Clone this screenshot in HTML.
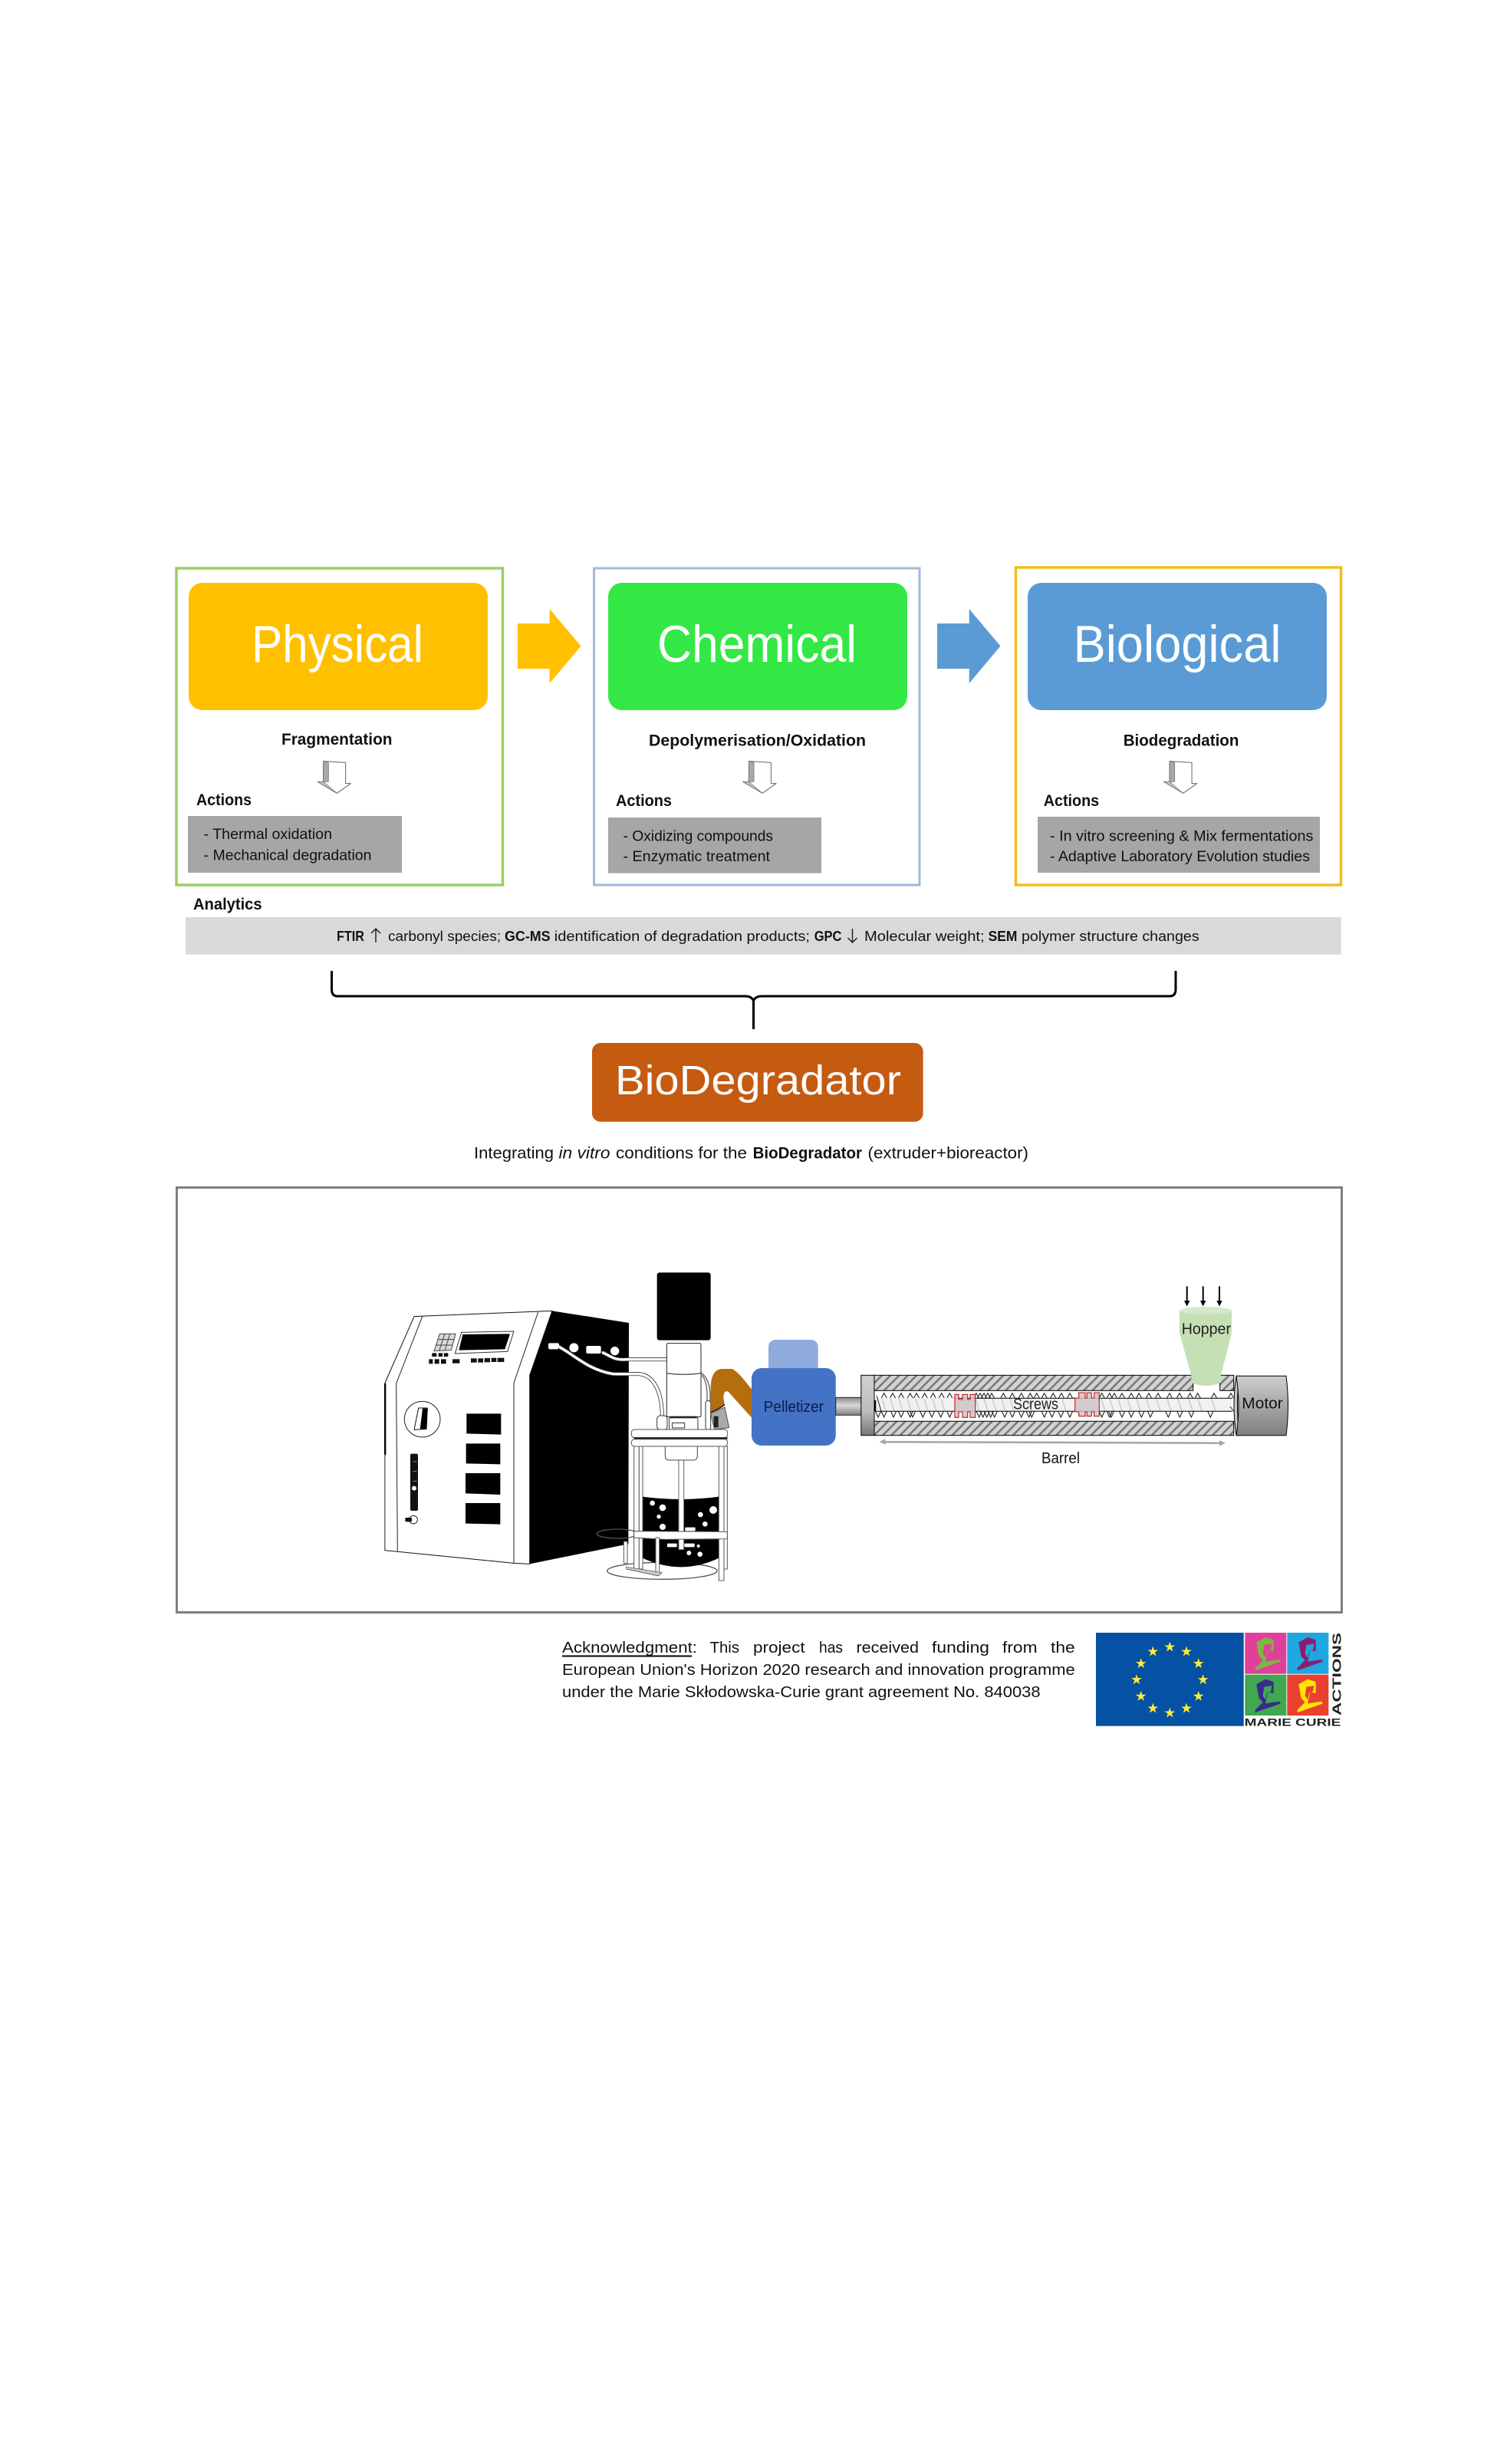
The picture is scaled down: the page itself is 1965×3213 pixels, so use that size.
<!DOCTYPE html>
<html><head><meta charset="utf-8"><title>BioDegradator</title>
<style>
html,body{margin:0;padding:0;background:#fff;width:1965px;height:3213px;overflow:hidden}
svg{display:block}
text{font-family:"Liberation Sans",sans-serif;fill:#111}
.b{font-weight:bold}
.w{fill:#fff}
</style></head><body>
<svg xmlns="http://www.w3.org/2000/svg" width="1965" height="3213" viewBox="0 0 1965 3213">
<defs>
<g id="da" stroke="#666" stroke-width="2" stroke-linejoin="round">
<polygon points="65,38 152,43 152,125 172,125 118,163 42,118 65,118" fill="#fff" stroke-width="3"/>
<polygon points="65,38 85,43 85,118 65,118" fill="#a8a8a8"/>
<polygon points="42,118 65,118 118,163" fill="#c4c4c4"/>
</g>
<polygon id="st" transform="scale(1.08)" fill="#FFEC3A" points="0,-6.7 1.5,-2.07 6.37,-2.07 2.43,.79 3.94,5.42 0,2.56 -3.94,5.42 -2.43,.79 -6.37,-2.07 -1.5,-2.07"/>
<pattern id="hatch" width="8" height="8" patternUnits="userSpaceOnUse" patternTransform="rotate(45)">
<rect width="8" height="8" fill="#d4d2d2"/><rect width="2.6" height="8" fill="#7a7a7a"/>
</pattern>
<linearGradient id="gv" x1="0" y1="0" x2="0" y2="1"><stop offset="0" stop-color="#d0cece"/><stop offset="1" stop-color="#7f7f7f"/></linearGradient>
<linearGradient id="gc" x1="0" y1="0" x2="0" y2="1"><stop offset="0" stop-color="#8a8a8a"/><stop offset=".45" stop-color="#d8d8d8"/><stop offset="1" stop-color="#808080"/></linearGradient>
<linearGradient id="gf" x1="0" y1="0" x2="0" y2="1"><stop offset="0" stop-color="#cfcfcf"/><stop offset=".6" stop-color="#bdbdbd"/><stop offset="1" stop-color="#777"/></linearGradient>
</defs>

<!-- top boxes -->
<rect x="230" y="741" width="425.500" height="413" fill="#fff" stroke="#9BCF63" stroke-width="3.500"/>
<rect x="774.500" y="741" width="424.500" height="413" fill="#fff" stroke="#A3B8DC" stroke-width="3"/>
<rect x="1324.500" y="740" width="424" height="414" fill="#fff" stroke="#F2BD1D" stroke-width="3.500"/>

<rect x="246" y="760" width="390" height="166" rx="18" fill="#FFC000"/>
<rect x="793" y="760" width="390" height="166" rx="18" fill="#33E845"/>
<rect x="1340" y="760" width="390" height="166" rx="18" fill="#5B9BD5"/>
<text class="w" x="328" y="863" font-size="68" textLength="224" lengthAdjust="spacingAndGlyphs">Physical</text>
<text class="w" x="857" y="863" font-size="68" textLength="260" lengthAdjust="spacingAndGlyphs">Chemical</text>
<text class="w" x="1399.500" y="863" font-size="68" textLength="271" lengthAdjust="spacingAndGlyphs">Biological</text>

<polygon points="675,813 716.600,813 716.600,794 757.500,842.500 716.600,891 716.600,872 675,872" fill="#FFC000"/>
<polygon points="1222,813 1263.700,813 1263.700,794 1304.500,842.500 1263.700,891 1263.700,872 1222,872" fill="#5B9BD5"/>

<text class="b" x="367" y="971" font-size="21" textLength="144.500" lengthAdjust="spacingAndGlyphs">Fragmentation</text>
<text class="b" x="846" y="972.500" font-size="21" textLength="283" lengthAdjust="spacingAndGlyphs">Depolymerisation/Oxidation</text>
<text class="b" x="1464.700" y="972.500" font-size="21" textLength="150.700" lengthAdjust="spacingAndGlyphs">Biodegradation</text>

<g transform="translate(400,980) scale(.3333)"><use href="#da"/></g>
<g transform="translate(954.700,980) scale(.3333)"><use href="#da"/></g>
<g transform="translate(1503.400,980) scale(.3333)"><use href="#da"/></g>

<text class="b" x="256" y="1050" font-size="21" textLength="72" lengthAdjust="spacingAndGlyphs">Actions</text>
<text class="b" x="803" y="1051" font-size="21" textLength="73" lengthAdjust="spacingAndGlyphs">Actions</text>
<text class="b" x="1360.700" y="1051" font-size="21" textLength="72.500" lengthAdjust="spacingAndGlyphs">Actions</text>

<rect x="245" y="1064" width="279" height="74" fill="#A6A6A6"/>
<rect x="793" y="1066" width="278" height="72.600" fill="#A6A6A6"/>
<rect x="1353" y="1065" width="368" height="73" fill="#A6A6A6"/>
<text x="265.600" y="1094" font-size="19.500" textLength="167.400" lengthAdjust="spacingAndGlyphs">- Thermal oxidation</text>
<text x="265.600" y="1121.400" font-size="19.500" textLength="218.900" lengthAdjust="spacingAndGlyphs">- Mechanical degradation</text>
<text x="812.500" y="1096.400" font-size="19.500" textLength="195.500" lengthAdjust="spacingAndGlyphs">- Oxidizing compounds</text>
<text x="812.500" y="1123" font-size="19.500" textLength="191.500" lengthAdjust="spacingAndGlyphs">- Enzymatic treatment</text>
<text x="1369" y="1096.400" font-size="19.500" textLength="343.400" lengthAdjust="spacingAndGlyphs">- In vitro screening &amp; Mix fermentations</text>
<text x="1369" y="1123" font-size="19.500" textLength="339" lengthAdjust="spacingAndGlyphs">- Adaptive Laboratory Evolution studies</text>

<!-- analytics -->
<text class="b" x="252" y="1186" font-size="21" textLength="89.600" lengthAdjust="spacingAndGlyphs">Analytics</text>
<rect x="242" y="1196" width="1506.700" height="48.600" fill="#D9D9D9"/>
<text class="b" x="439" y="1227" font-size="18" textLength="36" lengthAdjust="spacingAndGlyphs">FTIR</text>
<path d="M490 1229V1211M484 1217l6-6 6 6" fill="none" stroke="#222" stroke-width="1.500"/>
<text x="506" y="1227" font-size="18" textLength="147" lengthAdjust="spacingAndGlyphs">carbonyl species;</text>
<text class="b" x="658" y="1227" font-size="18" textLength="59.600" lengthAdjust="spacingAndGlyphs">GC-MS</text>
<text x="722.800" y="1227" font-size="18" textLength="333.200" lengthAdjust="spacingAndGlyphs">identification of degradation products;</text>
<text class="b" x="1061.700" y="1227" font-size="18" textLength="35.800" lengthAdjust="spacingAndGlyphs">GPC</text>
<path d="M1111.500 1211V1229M1105.500 1223l6 6 6-6" fill="none" stroke="#222" stroke-width="1.500"/>
<text x="1127" y="1227" font-size="18" textLength="156.600" lengthAdjust="spacingAndGlyphs">Molecular weight;</text>
<text class="b" x="1288.600" y="1227" font-size="18" textLength="37.800" lengthAdjust="spacingAndGlyphs">SEM</text>
<text x="1332" y="1227" font-size="18" textLength="231.700" lengthAdjust="spacingAndGlyphs">polymer structure changes</text>

<!-- brace -->
<path d="M432.500 1266V1290Q432.500 1299 440 1299H972Q980 1299 982.500 1305Q985 1299 993 1299H1525Q1533 1299 1533 1290V1266" fill="none" stroke="#000" stroke-width="3"/>
<path d="M982.500 1302V1342" fill="none" stroke="#000" stroke-width="3"/>

<rect x="772" y="1360" width="431.600" height="102.700" rx="11" fill="#C55A11"/>
<text class="w" x="802" y="1427" font-size="54" textLength="373" lengthAdjust="spacingAndGlyphs">BioDegradator</text>

<text x="618" y="1510.700" font-size="21.500" textLength="104" lengthAdjust="spacingAndGlyphs">Integrating</text>
<text x="728.500" y="1510.700" font-size="21.500" font-style="italic" textLength="67" lengthAdjust="spacingAndGlyphs">in vitro</text>
<text x="803" y="1510.700" font-size="21.500" textLength="171" lengthAdjust="spacingAndGlyphs">conditions for the</text>
<text class="b" x="981.600" y="1510.700" font-size="21.500" textLength="142.400" lengthAdjust="spacingAndGlyphs">BioDegradator</text>
<text x="1131.500" y="1510.700" font-size="21.500" textLength="209.500" lengthAdjust="spacingAndGlyphs">(extruder+bioreactor)</text>

<!-- frame -->
<rect x="230.500" y="1548.500" width="1519" height="554" fill="#fff" stroke="#7F7F7F" stroke-width="3"/>

<!-- bioreactor, coordinates in 3x crop space -->
<g transform="translate(480,1630) scale(.33333)" stroke-linejoin="round">
 <polygon points="720,238 1020,285 1018,1150 632,1228 632,490" fill="#000"/>
 <polygon points="65,522 180,260 720,238 632,490 632,1228 570,1225 65,1175" fill="#fff" stroke="#111" stroke-width="3"/>
 <path d="M110,522 212,260M110,522 115,1178M570,520 665,243M570,520V1225" fill="none" stroke="#222" stroke-width="3"/>
 <rect x="63" y="522" width="7" height="280" fill="#000"/>
 <rect x="63" y="800" width="5" height="375" fill="#777"/>
 <!-- keypad and display -->
 <polygon points="280,328 342,328 325,392 258,395" fill="#d8d8d8" stroke="#444" stroke-width="3"/>
 <path d="M300,328 278,394M320,328 300,393M272,350H335M266,372H330" stroke="#444" stroke-width="3" fill="none"/>
 <polygon points="365,322 570,318 545,397 340,405" fill="#fff" stroke="#333" stroke-width="3"/>
 <polygon points="370,330 555,328 535,388 355,392" fill="#000"/>
 <g fill="#111">
  <rect x="250" y="403" width="18" height="14"/><rect x="275" y="403" width="16" height="14"/><rect x="296" y="403" width="17" height="14"/>
  <rect x="238" y="427" width="15" height="18"/><rect x="260" y="427" width="18" height="18"/><rect x="285" y="427" width="20" height="18"/>
  <rect x="330" y="427" width="28" height="16"/><rect x="402" y="424" width="23" height="16"/><rect x="430" y="424" width="20" height="16"/><rect x="455" y="423" width="22" height="16"/><rect x="482" y="422" width="20" height="16"/><rect x="506" y="422" width="26" height="16"/>
 </g>
 <!-- dial -->
 <circle cx="212" cy="662" r="70" fill="#fff" stroke="#222" stroke-width="3"/>
 <polygon points="197,618 232,618 228,700 180,703" fill="#fff" stroke="#111" stroke-width="3"/>
 <polygon points="213,620 232,620 228,700 203,701" fill="#000"/>
 <!-- windows -->
 <g fill="#000">
  <polygon points="385,640 520,640 520,722 385,718"/><polygon points="383,757 517,757 517,838 383,835"/>
  <polygon points="381,873 517,873 517,957 381,952"/><polygon points="381,990 517,990 517,1073 381,1070"/>
 </g>
 <rect x="165" y="797" width="30" height="223" rx="6" fill="#111"/>
 <path d="M175,828H190M175,866H190M175,904H190" stroke="#888" stroke-width="3"/>
 <circle cx="180" cy="932" r="9" fill="#fff"/>
 <circle cx="177" cy="1055" r="16" fill="#fff" stroke="#222" stroke-width="3"/>
 <rect x="145" y="1047" width="26" height="16" rx="5" fill="#111"/>
 <!-- ports -->
 <g fill="#fff">
  <rect x="705" y="364" width="42" height="24" rx="6"/><circle cx="805" cy="382" r="18"/><rect x="853" y="375" width="58" height="30" rx="6"/><circle cx="965" cy="395" r="17"/>
 </g>
 <path d="M745,378C800,405 860,470 960,485H1060C1120,490 1150,560 1150,650" fill="none" stroke="#333" stroke-width="15"/>
 <path d="M745,378C800,405 860,470 960,485H1060C1120,490 1150,560 1150,650" fill="none" stroke="#fff" stroke-width="10"/>
 <path d="M915,400C950,415 960,432 1010,428H1170" fill="none" stroke="#333" stroke-width="15"/>
 <path d="M915,400C950,415 960,432 1010,428H1170" fill="none" stroke="#fff" stroke-width="10"/>
 <!-- head -->
 <rect x="1130" y="88" width="210" height="265" rx="10" fill="#000"/>
 <rect x="1168" y="365" width="134" height="288" rx="5" fill="#fff" stroke="#222" stroke-width="3"/>
 <path d="M1168,482Q1235,492 1302,482" fill="none" stroke="#555" stroke-width="4"/>
 <path d="M1300,478Q1338,505 1338,570V700M1305,490Q1326,510 1326,570V700" fill="none" stroke="#333" stroke-width="3"/>
 <rect x="1130" y="648" width="40" height="55" rx="12" fill="#fff" stroke="#333" stroke-width="3"/>
 <rect x="1178" y="655" width="112" height="48" rx="6" fill="#fff" stroke="#333" stroke-width="3"/>
 <rect x="1190" y="676" width="48" height="20" fill="#fff" stroke="#333" stroke-width="3"/>
 <rect x="1180" y="650" width="105" height="8" fill="#222"/>
 <rect x="1320" y="590" width="20" height="112" rx="8" fill="#fff" stroke="#333" stroke-width="3"/>
 <polygon points="1340,640 1395,615 1412,695 1355,702" fill="#aaa" stroke="#555" stroke-width="3"/>
 <rect x="1352" y="650" width="18" height="44" fill="#222"/>
 <!-- lower ring -->
 <ellipse cx="1150" cy="1255" rx="215" ry="33" fill="#fff" stroke="#555" stroke-width="4"/>
 <!-- liquid -->
 <path d="M1073,965Q1225,985 1372,965V1205Q1225,1275 1073,1205Z" fill="#000"/>
 <g fill="#fff">
  <circle cx="1112" cy="990" r="10"/><circle cx="1152" cy="1008" r="13"/><circle cx="1137" cy="1043" r="8"/><circle cx="1152" cy="1083" r="12"/><circle cx="1300" cy="1035" r="10"/><circle cx="1350" cy="1017" r="15"/><circle cx="1318" cy="1072" r="10"/>
  <rect x="1240" y="1085" width="40" height="14" rx="2"/><rect x="1170" y="1148" width="38" height="14" rx="2"/><rect x="1237" y="1148" width="40" height="14" rx="2"/><circle cx="1292" cy="1158" r="6"/><circle cx="1255" cy="1185" r="9"/><circle cx="1298" cy="1190" r="10"/>
 </g>
 <!-- shaft and stem -->
 <rect x="1215" y="822" width="20" height="350" fill="#fff" stroke="#666" stroke-width="3"/>
 <path d="M1162,768V805Q1162,822 1180,822H1270Q1288,822 1288,805V768Z" fill="#fff" stroke="#444" stroke-width="3"/>
 <!-- rods -->
 <g fill="#fff" stroke="#555" stroke-width="3">
  <rect x="1040" y="768" width="20" height="480"/><rect x="1060" y="768" width="14" height="480"/>
  <rect x="1372" y="768" width="20" height="525"/><rect x="1392" y="768" width="13" height="480"/>
 </g>
 <!-- plate -->
 <rect x="1030" y="702" width="376" height="32" rx="12" fill="#fff" stroke="#555" stroke-width="3"/>
 <rect x="1030" y="740" width="376" height="28" rx="12" fill="#fff" stroke="#555" stroke-width="3"/>
 <rect x="1040" y="733" width="366" height="7" fill="#222"/>
 <!-- band -->
 <ellipse cx="975" cy="1110" rx="80" ry="18" fill="none" stroke="#555" stroke-width="4"/>
 <polygon points="1040,1100 1405,1102 1405,1130 1160,1132 1040,1125" fill="#fff" stroke="#555" stroke-width="3"/>
 <rect x="1125" y="1125" width="14" height="145" fill="#fff" stroke="#555" stroke-width="3"/>
 <rect x="1000" y="1140" width="14" height="85" fill="#fff" stroke="#555" stroke-width="3"/>
 <polygon points="1010,1240 1150,1262 1135,1275 1010,1248" fill="#ccc" stroke="#444" stroke-width="2"/>
 <!-- brown tube -->
 <path d="M1340,632V530Q1345,465 1385,465H1420Q1440,465 1500,545V655Q1440,590 1410,555Q1390,545 1390,580L1395,605Q1370,622 1345,636Z" fill="#B46E0D"/>
 <path d="M1340,634Q1370,624 1395,605" fill="none" stroke="#111" stroke-width="4"/>
</g>

<!-- pelletizer -->
<rect x="1002" y="1747" width="64.700" height="50" rx="9" fill="#8FAADC"/>
<rect x="980" y="1784" width="109.700" height="101" rx="13" fill="#4472C4"/>
<text x="995.700" y="1841" font-size="20" style="fill:#0B1B4D" textLength="78.300" lengthAdjust="spacingAndGlyphs">Pelletizer</text>
<rect x="1089.700" y="1822.300" width="33.600" height="23" fill="url(#gc)" stroke="#222" stroke-width="1"/>

<!-- extruder -->
<rect x="1122.800" y="1793.300" width="17.200" height="78.400" fill="url(#gf)" stroke="#000" stroke-width="1"/>
<rect x="1140" y="1793.300" width="415.700" height="20" fill="url(#hatch)" stroke="#000" stroke-width="1"/>
<rect x="1590.700" y="1793.300" width="18" height="20" fill="url(#hatch)" stroke="#000" stroke-width="1"/>
<rect x="1140" y="1853.300" width="468.700" height="18.400" fill="url(#hatch)" stroke="#000" stroke-width="1"/>
<!-- screw core -->
<rect x="1141" y="1823.300" width="465.700" height="17" fill="#f1f1f1"/>
<path d="M1150 1824l5 16M1161 1824l5 16M1172 1824l5 16M1183 1824l5 16M1194 1824l5 16M1205 1824l5 16M1216 1824l5 16M1227 1824l5 16M1272 1824l5 16M1283 1824l5 16M1294 1824l5 16M1306 1824l5 16M1317 1824l5 16M1340 1824l5 16M1385 1824l5 16M1436 1824l5 16M1447 1824l5 16M1458 1824l5 16M1470 1824l5 16M1482 1824l5 16M1495 1824l5 16M1508 1824l5 16M1522 1824l5 16M1536 1824l5 16M1550 1824l5 16M1562 1824l5 16M1580 1824l5 16" stroke="#ccc" stroke-width="1.500" fill="none"/>
<path d="M1245 1823.300H1606.700M1141 1840.300H1606.700" stroke="#000" stroke-width="1" fill="none"/>
<path d="M1141 1826V1840" stroke="#000" stroke-width="2.500"/>
<path d="M1143 1820l6 20M1604 1834l6 8" stroke="#222" stroke-width="1" fill="none"/>
<!-- flights -->
<path fill="none" stroke="#222" stroke-width="1.100" d="M1149.200 1823l3.500-6.300 3.500 6.300M1160.500 1823l3.500-6.300 3.500 6.300M1171.500 1823l3.500-6.300 3.500 6.300M1183.200 1823l3.500-6.300 3.500 6.300M1191.500 1823l3.500-6.300 3.500 6.300M1202.200 1823l3.500-6.300 3.500 6.300M1213.200 1823l3.500-6.300 3.500 6.300M1224.200 1823l3.500-6.300 3.500 6.300M1234.800 1823l3.500-6.300 3.500 6.300M1269.500 1823l3.500-6.300 3.500 6.300M1274.500 1823l3.500-6.300 3.500 6.300M1279.500 1823l3.500-6.300 3.500 6.300M1284.500 1823l3.500-6.300 3.500 6.300M1289.500 1823l3.500-6.300 3.500 6.300M1304.800 1823l3.500-6.300 3.500 6.300M1316.500 1823l3.500-6.300 3.500 6.300M1328.200 1823l3.500-6.300 3.500 6.300M1339.800 1823l3.500-6.300 3.500 6.300M1348.200 1823l3.500-6.300 3.500 6.300M1358.200 1823l3.500-6.300 3.500 6.300M1369.800 1823l3.500-6.300 3.500 6.300M1380.500 1823l3.500-6.300 3.500 6.300M1391.500 1823l3.500-6.300 3.500 6.300M1433.200 1823l3.500-6.300 3.500 6.300M1443.200 1823l3.500-6.300 3.500 6.300M1449.500 1823l3.500-6.300 3.500 6.300M1459.500 1823l3.500-6.300 3.500 6.300M1471.500 1823l3.500-6.300 3.500 6.300M1481.500 1823l3.500-6.300 3.500 6.300M1494.500 1823l3.500-6.300 3.500 6.300M1506.500 1823l3.500-6.300 3.500 6.300M1521.500 1823l3.500-6.300 3.500 6.300M1534.500 1823l3.500-6.300 3.500 6.300M1548.200 1823l3.500-6.300 3.500 6.300M1558.200 1823l3.500-6.300 3.500 6.300M1579.500 1823l3.500-6.300 3.500 6.300M1601.500 1823l3.500-6.300 3.500 6.300"/>
<path fill="none" stroke="#222" stroke-width="1.100" d="M1141.500 1840.500l3.500 7.500 3.500-7.500M1149.200 1840.500l3.500 7.500 3.500-7.500M1161.500 1840.500l3.500 7.500 3.500-7.500M1171.500 1840.500l3.500 7.500 3.500-7.500M1183.200 1840.500l3.500 7.500 3.500-7.500M1186.500 1840.500l3.500 7.500 3.500-7.500M1199.800 1840.500l3.500 7.500 3.500-7.500M1211.500 1840.500l3.500 7.500 3.500-7.500M1223.200 1840.500l3.500 7.500 3.500-7.500M1234.800 1840.500l3.500 7.500 3.500-7.500M1273.200 1840.500l3.500 7.500 3.500-7.500M1278.200 1840.500l3.500 7.500 3.500-7.500M1283.200 1840.500l3.500 7.500 3.500-7.500M1288.200 1840.500l3.500 7.500 3.500-7.500M1293.200 1840.500l3.500 7.500 3.500-7.500M1306.500 1840.500l3.500 7.500 3.500-7.500M1316.500 1840.500l3.500 7.500 3.500-7.500M1328.200 1840.500l3.500 7.500 3.500-7.500M1338.200 1840.500l3.500 7.500 3.500-7.500M1341.800 1840.500l3.500 7.500 3.500-7.500M1358.200 1840.500l3.500 7.500 3.500-7.500M1368.200 1840.500l3.500 7.500 3.500-7.500M1379.800 1840.500l3.500 7.500 3.500-7.500M1391.500 1840.500l3.500 7.500 3.500-7.500M1433.200 1840.500l3.500 7.500 3.500-7.500M1443.200 1840.500l3.500 7.500 3.500-7.500M1445.500 1840.500l3.500 7.500 3.500-7.500M1459.500 1840.500l3.500 7.500 3.500-7.500M1471.500 1840.500l3.500 7.500 3.500-7.500M1484.800 1840.500l3.500 7.500 3.500-7.500M1496.500 1840.500l3.500 7.500 3.500-7.500M1519.800 1840.500l3.500 7.500 3.500-7.500M1534.800 1840.500l3.500 7.500 3.500-7.500M1549.800 1840.500l3.500 7.500 3.500-7.500M1574.800 1840.500l3.500 7.500 3.500-7.500"/>
<!-- red kneading blocks -->
<path d="M1245 1818.300H1250V1825H1255V1818.300H1261.700V1825H1265V1818.300H1271.700V1848.300H1265V1841H1261.700V1848.300H1255V1841H1250V1848.300H1245Z" fill="#cfc6c6" fill-opacity=".85" stroke="#C8101E" stroke-width="1.100"/>
<path d="M1401.700 1823H1406.700V1816H1415V1823H1417.300V1816H1423.300V1823H1426.700V1816H1433.300V1846.700H1426.700V1841H1423.300V1846.700H1417.300V1841H1415V1846.700H1406.700V1841H1401.700Z" fill="#cfc6c6" fill-opacity=".85" stroke="#C8101E" stroke-width="1.100"/>
<text x="1321" y="1837.700" font-size="20" style="fill:#222" textLength="59" lengthAdjust="spacingAndGlyphs">Screws</text>
<!-- motor -->
<path d="M1612 1794.300Q1606 1833 1612 1871.700H1616Q1611 1833 1616 1794.300Z" fill="#c8c8c8" stroke="#000" stroke-width="1"/>
<path d="M1612 1794.300H1677Q1682 1833 1677 1871.700H1612Q1618 1833 1612 1794.300Z" fill="url(#gv)" stroke="#000" stroke-width="1"/>
<text x="1619.300" y="1836.700" font-size="20" style="fill:#111" textLength="53.400" lengthAdjust="spacingAndGlyphs">Motor</text>
<!-- hopper -->
<path d="M1538 1709H1606V1738.300L1592 1793.300V1803Q1572.500 1811 1553.300 1803V1793.300L1538 1738.300Z" fill="#C5E0B4"/>
<ellipse cx="1572" cy="1709" rx="34" ry="5" fill="#D6E8C9"/>
<text x="1540.700" y="1739.300" font-size="20" style="fill:#222" textLength="64.300" lengthAdjust="spacingAndGlyphs">Hopper</text>
<g stroke="#000" stroke-width="2" fill="#000">
 <path d="M1547.700 1677.300V1698"/><polygon stroke="none" points="1544,1696 1551.400,1696 1547.700,1703.500"/>
 <path d="M1568.700 1677.300V1698"/><polygon stroke="none" points="1565,1696 1572.400,1696 1568.700,1703.500"/>
 <path d="M1590 1677.300V1698"/><polygon stroke="none" points="1586.300,1696 1593.700,1696 1590,1703.500"/>
</g>
<!-- barrel arrow -->
<path d="M1150 1880.200L1592 1881.700" stroke="#A6A6A6" stroke-width="2.500" fill="none"/>
<polygon points="1146.700,1880 1154.500,1876.300 1154.500,1884" fill="#A6A6A6"/>
<polygon points="1598,1881.700 1590,1878 1590,1885.500" fill="#A6A6A6"/>
<text x="1358" y="1908" font-size="20" style="fill:#111" textLength="50" lengthAdjust="spacingAndGlyphs">Barrel</text>

<!-- acknowledgment -->
<text x="733" y="2155" font-size="20" textLength="176" lengthAdjust="spacingAndGlyphs">Acknowledgment:</text>
<rect x="733" y="2158.500" width="169" height="2" fill="#000"/>
<text x="925.600" y="2155" font-size="20" textLength="38.400" lengthAdjust="spacingAndGlyphs">This</text>
<text x="982" y="2155" font-size="20" textLength="67.600" lengthAdjust="spacingAndGlyphs">project</text>
<text x="1068" y="2155" font-size="20" textLength="31" lengthAdjust="spacingAndGlyphs">has</text>
<text x="1116.500" y="2155" font-size="20" textLength="81.500" lengthAdjust="spacingAndGlyphs">received</text>
<text x="1215" y="2155" font-size="20" textLength="75" lengthAdjust="spacingAndGlyphs">funding</text>
<text x="1307" y="2155" font-size="20" textLength="45.600" lengthAdjust="spacingAndGlyphs">from</text>
<text x="1370" y="2155" font-size="20" textLength="31.700" lengthAdjust="spacingAndGlyphs">the</text>
<text x="733" y="2184" font-size="20" textLength="668.700" lengthAdjust="spacingAndGlyphs">European Union's Horizon 2020 research and innovation programme</text>
<text x="733" y="2213" font-size="20" textLength="623.600" lengthAdjust="spacingAndGlyphs">under the Marie Skłodowska-Curie grant agreement No. 840038</text>

<!-- EU flag -->
<rect x="1429" y="2129" width="192.700" height="121.700" fill="#0551A3"/>
<use href="#st" x="1525.300" y="2147.700"/><use href="#st" x="1547" y="2153.700"/><use href="#st" x="1562.700" y="2169.300"/><use href="#st" x="1568.700" y="2190.300"/><use href="#st" x="1562.700" y="2212"/><use href="#st" x="1547" y="2227.700"/><use href="#st" x="1525.300" y="2233.700"/><use href="#st" x="1503.300" y="2227.700"/><use href="#st" x="1487.700" y="2212"/><use href="#st" x="1482" y="2190.300"/><use href="#st" x="1487.700" y="2169.300"/><use href="#st" x="1503.300" y="2153.700"/>

<!-- Marie Curie logo -->
<g transform="translate(1420,2110) scale(.33333)">
 <rect x="610" y="57" width="162" height="161" fill="#E0409A"/>
 <polygon points="655,95 690,75 722,85 722,130 700,125 690,170 745,162 750,170 650,205 650,195 680,165 665,150" fill="#7DB640"/>
 <polygon points="685,105 715,100 712,122 697,128 690,155 680,140" fill="#E0409A"/>
 <rect x="775" y="57" width="162" height="161" fill="#1EA7E1"/>
 <polygon points="820,95 855,75 887,85 887,130 865,125 855,170 910,162 915,170 815,205 815,195 845,165 830,150" fill="#8E1C6E"/>
 <polygon points="850,105 880,100 877,122 862,128 855,155 845,140" fill="#1EA7E1"/>
 <rect x="610" y="221" width="162" height="160" fill="#3FA850"/>
 <polygon points="655,259 690,239 722,249 722,294 700,289 690,334 745,326 750,334 650,369 650,359 680,329 665,314" fill="#3B2A8C"/>
 <polygon points="685,269 715,264 712,286 697,292 690,319 680,304" fill="#3FA850"/>
 <rect x="775" y="221" width="162" height="160" fill="#E8412F"/>
 <polygon points="820,259 855,239 887,249 887,294 865,289 855,334 910,326 915,334 815,369 815,359 845,329 830,314" fill="#FFE600"/>
 <polygon points="850,269 880,264 877,286 862,292 855,319 845,304" fill="#E8412F"/>
</g>
<text class="b" x="1622.700" y="2250.700" font-size="14" style="fill:#222" textLength="125.600" lengthAdjust="spacingAndGlyphs">MARIE CURIE</text>
<text class="b" transform="translate(1748.300,2237) rotate(-90)" x="0" y="0" font-size="16" style="fill:#222" textLength="108" lengthAdjust="spacingAndGlyphs">ACTIONS</text>
</svg>
</body></html>
